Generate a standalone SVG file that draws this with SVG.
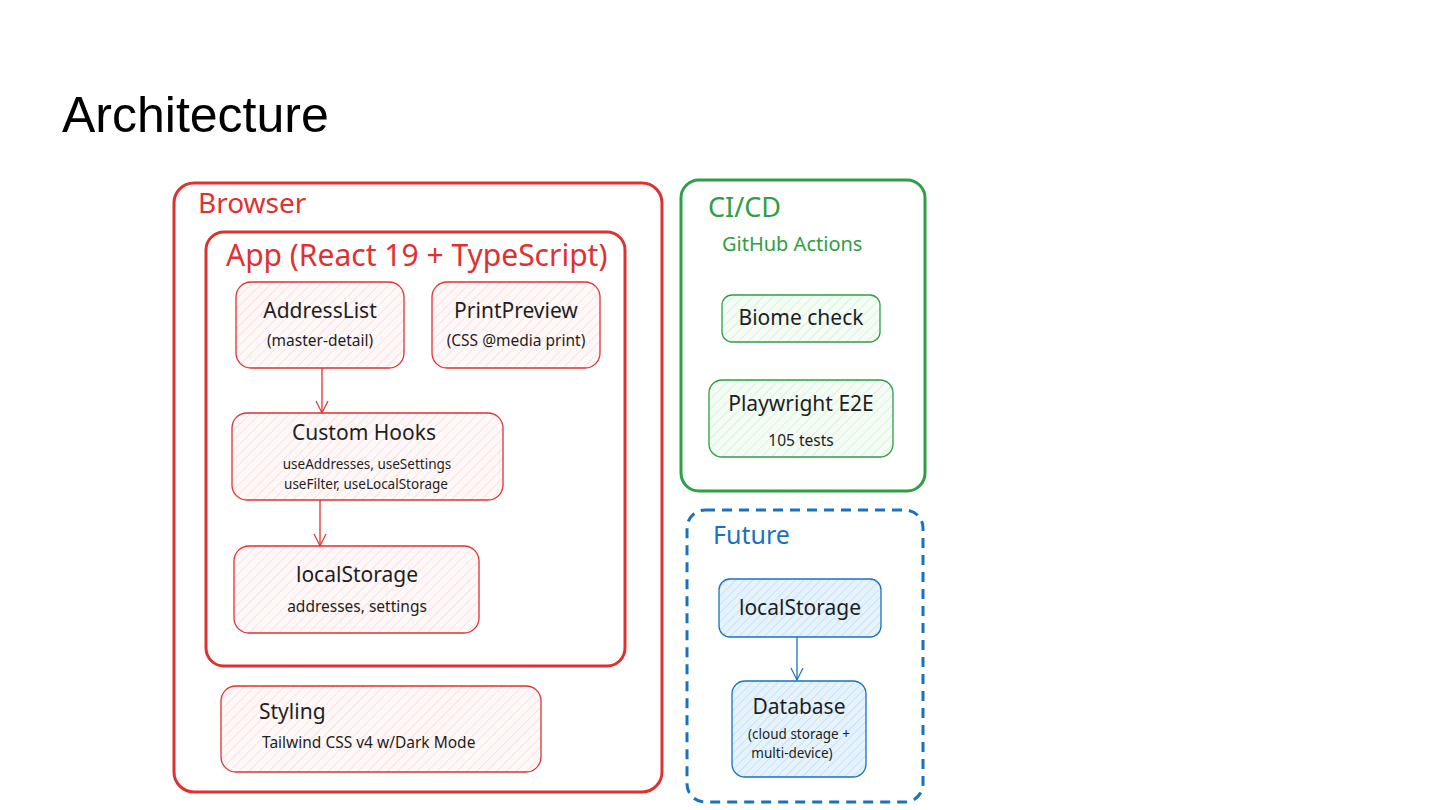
<svg xmlns="http://www.w3.org/2000/svg" width="1440" height="810" viewBox="0 0 1440 810">
<defs>
<pattern id="hRed" patternUnits="userSpaceOnUse" width="7" height="7" patternTransform="rotate(45)">
<rect width="7" height="7" fill="#fff8f8"/>
<line x1="0" y1="0" x2="0" y2="7" stroke="#f6cfcf" stroke-width="1.1"/>
</pattern>
<pattern id="hGreen" patternUnits="userSpaceOnUse" width="7" height="7" patternTransform="rotate(45)">
<rect width="7" height="7" fill="#f4fcf5"/>
<line x1="0" y1="0" x2="0" y2="7" stroke="#c4ebca" stroke-width="1.1"/>
</pattern>
<pattern id="hBlue" patternUnits="userSpaceOnUse" width="6" height="6" patternTransform="rotate(45)">
<rect width="6" height="6" fill="#e6f3fd"/>
<line x1="0" y1="0" x2="0" y2="6" stroke="#b3dbf7" stroke-width="1.3"/>
</pattern>
<marker id="arrRed" markerWidth="16" markerHeight="16" refX="8" refY="14" orient="0" markerUnits="userSpaceOnUse">
<path d="M2,2 L8,14 L14,2" fill="none" stroke="#e03131" stroke-width="1.2"/>
</marker>
<marker id="arrBlue" markerWidth="16" markerHeight="16" refX="8" refY="14" orient="0" markerUnits="userSpaceOnUse">
<path d="M2,2 L8,14 L14,2" fill="none" stroke="#1971c2" stroke-width="1.2"/>
</marker>
</defs>
<style>
text { font-family: "Noto Sans", "Liberation Sans", sans-serif; fill: #1e1e1e; }
.title { font-family: "Liberation Sans", Arial, sans-serif; font-size: 50px; fill: #000; }
.lblRed { fill: #e03131; }
.lblGreen { fill: #2f9e44; }
.lblBlue { fill: #1971c2; font-size: 25px; }
.big { stroke-width: 3; fill: none; }
.red { stroke: #e03131; }
.green { stroke: #2f9e44; }
.blue { stroke: #1971c2; }
.node { stroke-width: 1.3; }
.nt { font-size: 21px; text-anchor: middle; }
.ns { font-size: 15.5px; text-anchor: middle; }
.ns2 { font-size: 13.5px; text-anchor: middle; }
.ls { text-anchor: start; }
.conn { fill: none; stroke-width: 1.3; }
</style>
<rect width="1440" height="810" fill="#ffffff"/>
<text class="title" x="62" y="132">Architecture</text>

<g id="browser">
<rect class="big red" x="174" y="183" width="488" height="609" rx="20"/>
<text class="lblRed" x="198" y="213" font-size="28">Browser</text>
</g>
<g id="app">
<rect class="big red" x="206" y="232" width="419" height="434" rx="18"/>
<text class="lblRed" x="226" y="266" font-size="30">App (React 19 + TypeScript)</text>
</g>
<g id="addresslist">
<rect class="node red" fill="url(#hRed)" x="236" y="282" width="168" height="86" rx="15"/>
<text class="nt" x="320" y="318">AddressList</text>
<text class="ns" x="320" y="346">(master-detail)</text>
</g>
<g id="printpreview">
<rect class="node red" fill="url(#hRed)" x="432" y="282" width="168" height="86" rx="15"/>
<text class="nt" x="516" y="318">PrintPreview</text>
<text class="ns" x="516" y="346">(CSS @media print)</text>
</g>
<g id="customhooks">
<rect class="node red" fill="url(#hRed)" x="232" y="413" width="271" height="87" rx="15"/>
<text class="nt" x="364" y="440">Custom Hooks</text>
<text class="ns2" x="367" y="469" font-size="14.5">useAddresses, useSettings</text>
<text class="ns2" x="366" y="489" font-size="14.5">useFilter, useLocalStorage</text>
</g>
<g id="localstorage">
<rect class="node red" fill="url(#hRed)" x="234" y="546" width="245" height="87" rx="15"/>
<text class="nt" x="357" y="582">localStorage</text>
<text class="ns" x="357" y="612">addresses, settings</text>
</g>
<g id="styling">
<rect class="node red" fill="url(#hRed)" x="221" y="686" width="320" height="86" rx="15"/>
<text class="nt ls" x="259" y="719">Styling</text>
<text class="ns ls" x="262" y="748">Tailwind CSS v4 w/Dark Mode</text>
</g>

<g id="cicd">
<rect class="big green" x="681" y="180" width="244" height="311" rx="18"/>
<text class="lblGreen" x="708" y="217" font-size="27">CI/CD</text>
<text class="lblGreen" x="722" y="251" font-size="20">GitHub Actions</text>
</g>
<g id="biome">
<rect class="node green" fill="url(#hGreen)" x="722" y="295" width="158" height="47" rx="10"/>
<text class="nt" x="801" y="325">Biome check</text>
</g>
<g id="playwright">
<rect class="node green" fill="url(#hGreen)" x="709" y="380" width="184" height="77" rx="13"/>
<text class="nt" x="801" y="411">Playwright E2E</text>
<text class="ns" x="801" y="446">105 tests</text>
</g>

<g id="future">
<rect class="big blue" x="687" y="510" width="236" height="292" rx="18" stroke-dasharray="10 7"/>
<text class="lblBlue" x="713" y="544">Future</text>
</g>
<g id="future-localstorage">
<rect class="node blue" fill="url(#hBlue)" x="719" y="579" width="162" height="58" rx="11"/>
<text class="nt" x="800" y="615">localStorage</text>
</g>
<g id="database">
<rect class="node blue" fill="url(#hBlue)" x="732" y="681" width="134" height="96" rx="13"/>
<text class="nt" x="799" y="714">Database</text>
<text class="ns2" x="799" y="739">(cloud storage +</text>
<text class="ns2" x="792" y="758">multi-device)</text>
</g>

<g id="connectors">
<path class="conn red" d="M322,368 L322,413" marker-end="url(#arrRed)"/>
<path class="conn red" d="M320,500 L320,546" marker-end="url(#arrRed)"/>
<path class="conn blue" d="M797,637 L797,680" marker-end="url(#arrBlue)"/>
</g>
</svg>
